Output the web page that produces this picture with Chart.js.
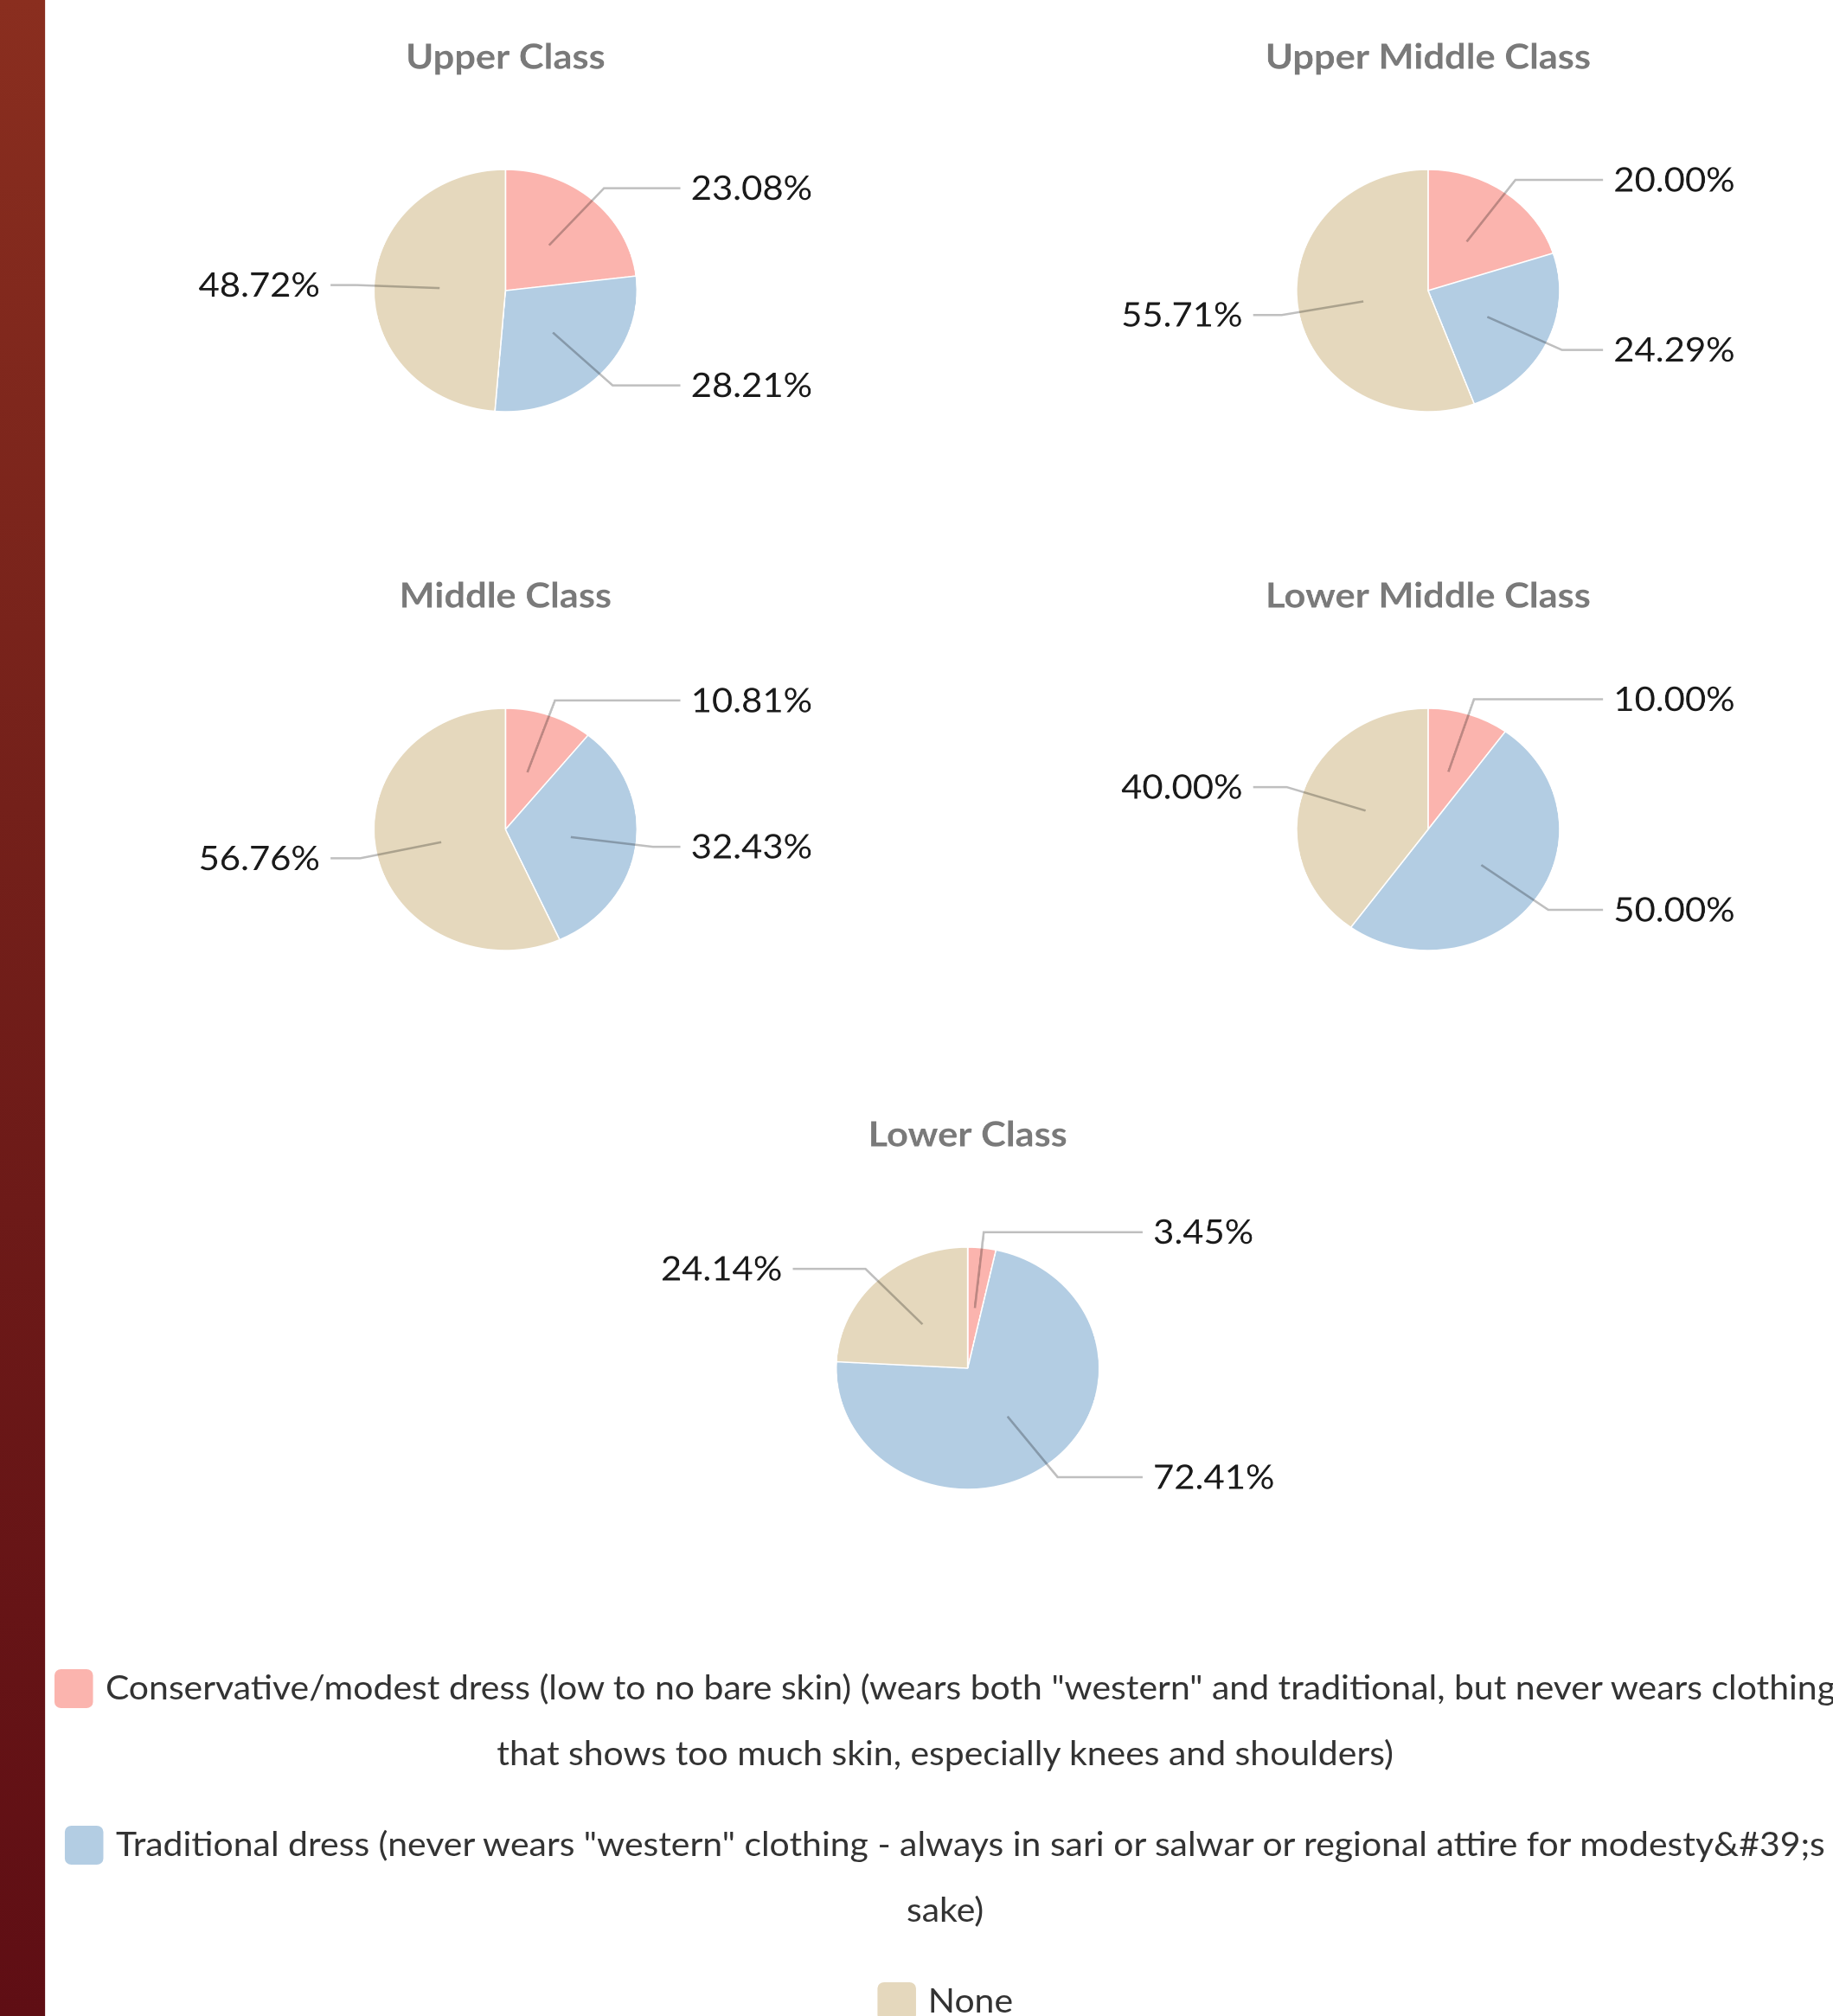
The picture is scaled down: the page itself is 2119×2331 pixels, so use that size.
<!DOCTYPE html>
<html>
<head>
<meta charset="utf-8">
<script src="https://cdn.jsdelivr.net/npm/chart.js@4.4.1/dist/chart.umd.min.js"></script>
<style>
  html, body { margin: 0; padding: 0; background: #ffffff; overflow: hidden; }
  #page {
    position: absolute; left: 0; top: 0;
    width: 1951px; height: 2331px;
    transform: scaleX(1.0861); transform-origin: 0 0;
    font-family: Lato, "Open Sans", sans-serif;
  }
  #strip {
    position: absolute; left: 0; top: 0; width: 48px; height: 2331px;
    background: linear-gradient(to bottom, #8a2e1f 0%, #74201a 40%, #5f0e14 100%);
  }
  .box { position: absolute; width: 800px; height: 560px; }
  #legend {
    position: absolute; left: 48px; top: 1913px; width: 1916px;
    text-align: center; color: #333333; font-size: 37.7px; line-height: 76px;
  }
  .item { margin-bottom: 29px; }
  .sw {
    display: inline-block; width: 41px; height: 45px; border-radius: 7px;
    vertical-align: middle; margin-right: 13px; position: relative; top: -3px;
  }
</style>
</head>
<body>
<div id="page">
  <div id="strip"></div>
  <div class="box" style="left:138px; top:0px;"><canvas id="c0" width="800" height="560"></canvas></div>
  <div class="box" style="left:1120px; top:0px;"><canvas id="c1" width="800" height="560"></canvas></div>
  <div class="box" style="left:138px; top:623px;"><canvas id="c2" width="800" height="560"></canvas></div>
  <div class="box" style="left:1120px; top:623px;"><canvas id="c3" width="800" height="560"></canvas></div>
  <div class="box" style="left:630px; top:1246px;"><canvas id="c4" width="800" height="560"></canvas></div>
  <div id="legend"></div>
</div>
<script>
// ---- data ----
const classes = ['Upper Class', 'Upper Middle Class', 'Middle Class', 'Lower Middle Class', 'Lower Class'];
const categories = [
  'Conservative/modest dress (low to no bare skin) (wears both "western" and traditional, but never wears clothing that shows too much skin, especially knees and shoulders)',
  'Traditional dress (never wears "western" clothing - always in sari or salwar or regional attire for modesty&#39;s sake)',
  'None'
];
const conservative = [23.08, 20.00, 10.81, 10.00, 3.45];
const traditional  = [28.21, 24.29, 32.43, 50.00, 72.41];
const noneValues   = [48.72, 55.71, 56.76, 40.00, 24.14];
const colors = ['#fbb4ae', '#b3cde3', '#e5d8bd'];

// ---- outside labels with leader lines ----
const outLabels = {
  id: 'outLabels',
  afterDatasetsDraw(chart) {
    const ctx = chart.ctx;
    const meta = chart.getDatasetMeta(0);
    const data = chart.data.datasets[0].data;
    ctx.save();
    meta.data.forEach((arc, i) => {
      const p = arc.getProps(['x', 'y', 'startAngle', 'endAngle', 'outerRadius'], true);
      const r = p.outerRadius;
      const mid = (p.startAngle + p.endAngle) / 2;
      const c = Math.cos(mid), s = Math.sin(mid);
      const x0 = p.x + c * r * 0.5, y0 = p.y + s * r * 0.5;
      const x1 = p.x + c * r * 1.13, y1 = p.y + s * r * 1.13;
      const right = c >= 0;
      const x2 = p.x + (right ? 1 : -1) * r * 1.33;
      ctx.beginPath();
      ctx.moveTo(x0, y0); ctx.lineTo(x1, y1); ctx.lineTo(x2, y1);
      ctx.strokeStyle = 'rgba(0,0,0,0.25)';
      ctx.lineWidth = 2.5;
      ctx.stroke();
      ctx.fillStyle = '#1a1a1a';
      ctx.font = '38.5px Lato, "Open Sans", sans-serif';
      ctx.textBaseline = 'middle';
      ctx.textAlign = right ? 'left' : 'right';
      const tx = p.x + (right ? 1 : -1) * r * 1.41;
      ctx.fillText(data[i].toFixed(2) + '%', tx, y1 + 1);
    });
    ctx.restore();
  }
};

classes.forEach((name, k) => {
  new Chart(document.getElementById('c' + k), {
    type: 'pie',
    data: {
      labels: categories,
      datasets: [{
        data: [conservative[k], traditional[k], noneValues[k]],
        backgroundColor: colors,
        borderColor: '#ffffff',
        borderWidth: 1.5
      }]
    },
    options: {
      responsive: false,
      devicePixelRatio: 2,
      animation: false,
      radius: 140,
      layout: { padding: { top: 0, bottom: 24, left: 0, right: 0 } },
      plugins: {
        legend: { display: false },
        tooltip: { enabled: false },
        title: {
          display: true,
          text: name,
          color: '#7a7a7a',
          font: { family: 'Lato, "Open Sans", sans-serif', size: 40, weight: 'bold', lineHeight: 1.14 },
          padding: { top: 44, bottom: 46.4 }
        }
      }
    },
    plugins: [outLabels]
  });
});

// ---- HTML legend built from categories/colors ----
const lg = document.getElementById('legend');
categories.forEach((cat, i) => {
  const d = document.createElement('div');
  d.className = 'item';
  const sw = document.createElement('span');
  sw.className = 'sw';
  sw.style.background = colors[i];
  d.appendChild(sw);
  d.appendChild(document.createTextNode(cat));
  lg.appendChild(d);
});
</script>
</body>
</html>
